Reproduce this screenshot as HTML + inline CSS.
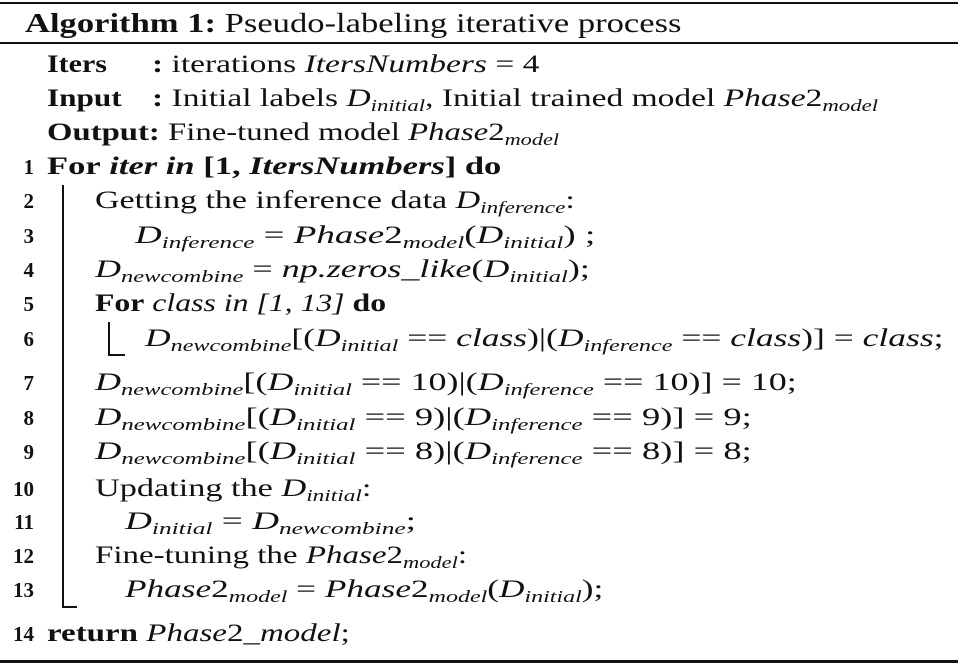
<!DOCTYPE html>
<html><head><meta charset="utf-8"><style>
body{margin:0;width:958px;height:666px;background:#fff;position:relative;overflow:hidden;font-family:"Liberation Serif",serif;font-size:25px;color:#111}
.l{position:absolute;white-space:nowrap;line-height:30px;transform-origin:0 50%}
.n{position:absolute;width:34px;text-align:right;font-weight:bold;font-size:21px;line-height:30px}
i{font-style:italic}
sub{font-size:0.68em;font-style:italic;vertical-align:-0.3em;line-height:0}
.r{position:absolute;background:#111}
</style></head><body>
<div class="r" style="left:0;top:2px;width:958px;height:2px"></div>
<div class="l" style="left:25px;top:8px;font-size:27px;transform:scaleX(1.28)"><b>Algorithm 1:</b> Pseudo-labeling iterative process</div>
<div class="r" style="left:0;top:42px;width:958px;height:2px"></div>
<div class="l" style="left:47px;top:50px;transform:scaleX(1.2)"><b>Iters</b></div>
<div class="l" style="left:152px;top:50px;transform:scaleX(1.34)"><b>:</b>&nbsp;iterations <i>ItersNumbers</i> = 4</div>
<div class="l" style="left:47px;top:84px;transform:scaleX(1.25)"><b>Input</b></div>
<div class="l" style="left:152px;top:84px;transform:scaleX(1.34)"><b>:</b>&nbsp;Initial labels <i>D</i><sub>initial</sub>, Initial trained model <i>Phase</i>2<sub>model</sub></div>
<div class="l" style="left:47px;top:118px;transform:scaleX(1.31)"><b>Output:</b> Fine-tuned model <i>Phase</i>2<sub>model</sub></div>

<div class="n" style="left:0;top:152px">1</div>
<div class="l" style="left:47px;top:152px;transform:scaleX(1.38)"><b>For</b> <b><i>iter in</i> [1, <i>ItersNumbers</i>]</b> <b>do</b></div>
<div class="n" style="left:0;top:186px">2</div>
<div class="l" style="left:95px;top:186px;transform:scaleX(1.36)">Getting the inference data <i>D</i><sub>inference</sub>:</div>
<div class="n" style="left:0;top:221px">3</div>
<div class="l" style="left:135px;top:221px;transform:scaleX(1.48)"><i>D</i><sub>inference</sub> = <i>Phase</i>2<sub>model</sub>(<i>D</i><sub>initial</sub>) ;</div>
<div class="n" style="left:0;top:255px">4</div>
<div class="l" style="left:95px;top:255px;transform:scaleX(1.44)"><i>D</i><sub>newcombine</sub> = <i>np.zeros_like</i>(<i>D</i><sub>initial</sub>);</div>
<div class="n" style="left:0;top:289px">5</div>
<div class="l" style="left:95px;top:289px;transform:scaleX(1.27)"><b>For</b> <i>class in [1, 13]</i> <b>do</b></div>
<div class="n" style="left:0;top:324px">6</div>
<div class="l" style="left:145px;top:324px;transform:scaleX(1.42)"><i>D</i><sub>newcombine</sub>[(<i>D</i><sub>initial</sub> == <i>class</i>)|(<i>D</i><sub>inference</sub> == <i>class</i>)] = <i>class</i>;</div>
<div class="r" style="left:108px;top:322px;width:2px;height:34px"></div>
<div class="r" style="left:108px;top:354px;width:17px;height:2px"></div>
<div class="n" style="left:0;top:368px">7</div>
<div class="l" style="left:95px;top:368px;transform:scaleX(1.44)"><i>D</i><sub>newcombine</sub>[(<i>D</i><sub>initial</sub> == 10)|(<i>D</i><sub>inference</sub> == 10)] = 10;</div>
<div class="n" style="left:0;top:403px">8</div>
<div class="l" style="left:95px;top:403px;transform:scaleX(1.46)"><i>D</i><sub>newcombine</sub>[(<i>D</i><sub>initial</sub> == 9)|(<i>D</i><sub>inference</sub> == 9)] = 9;</div>
<div class="n" style="left:0;top:437px">9</div>
<div class="l" style="left:95px;top:437px;transform:scaleX(1.46)"><i>D</i><sub>newcombine</sub>[(<i>D</i><sub>initial</sub> == 8)|(<i>D</i><sub>inference</sub> == 8)] = 8;</div>
<div class="n" style="left:0;top:474px">10</div>
<div class="l" style="left:95px;top:474px;transform:scaleX(1.37)">Updating the <i>D</i><sub>initial</sub>:</div>
<div class="n" style="left:0;top:507px">11</div>
<div class="l" style="left:125px;top:507px;transform:scaleX(1.49)"><i>D</i><sub>initial</sub> = <i>D</i><sub>newcombine</sub>;</div>
<div class="n" style="left:0;top:541px">12</div>
<div class="l" style="left:95px;top:541px;transform:scaleX(1.32)">Fine-tuning the <i>Phase</i>2<sub>model</sub>:</div>
<div class="n" style="left:0;top:575px">13</div>
<div class="l" style="left:125px;top:575px;transform:scaleX(1.41)"><i>Phase</i>2<sub>model</sub> = <i>Phase</i>2<sub>model</sub>(<i>D</i><sub>initial</sub>);</div>
<div class="r" style="left:62px;top:185px;width:2px;height:423px"></div>
<div class="r" style="left:62px;top:606px;width:15px;height:2px"></div>
<div class="n" style="left:0;top:619px">14</div>
<div class="l" style="left:47px;top:619px;transform:scaleX(1.32)"><b>return</b> <i>Phase</i>2<i>_model</i>;</div>
<div class="r" style="left:0;top:660px;width:958px;height:3px"></div>
</body></html>
